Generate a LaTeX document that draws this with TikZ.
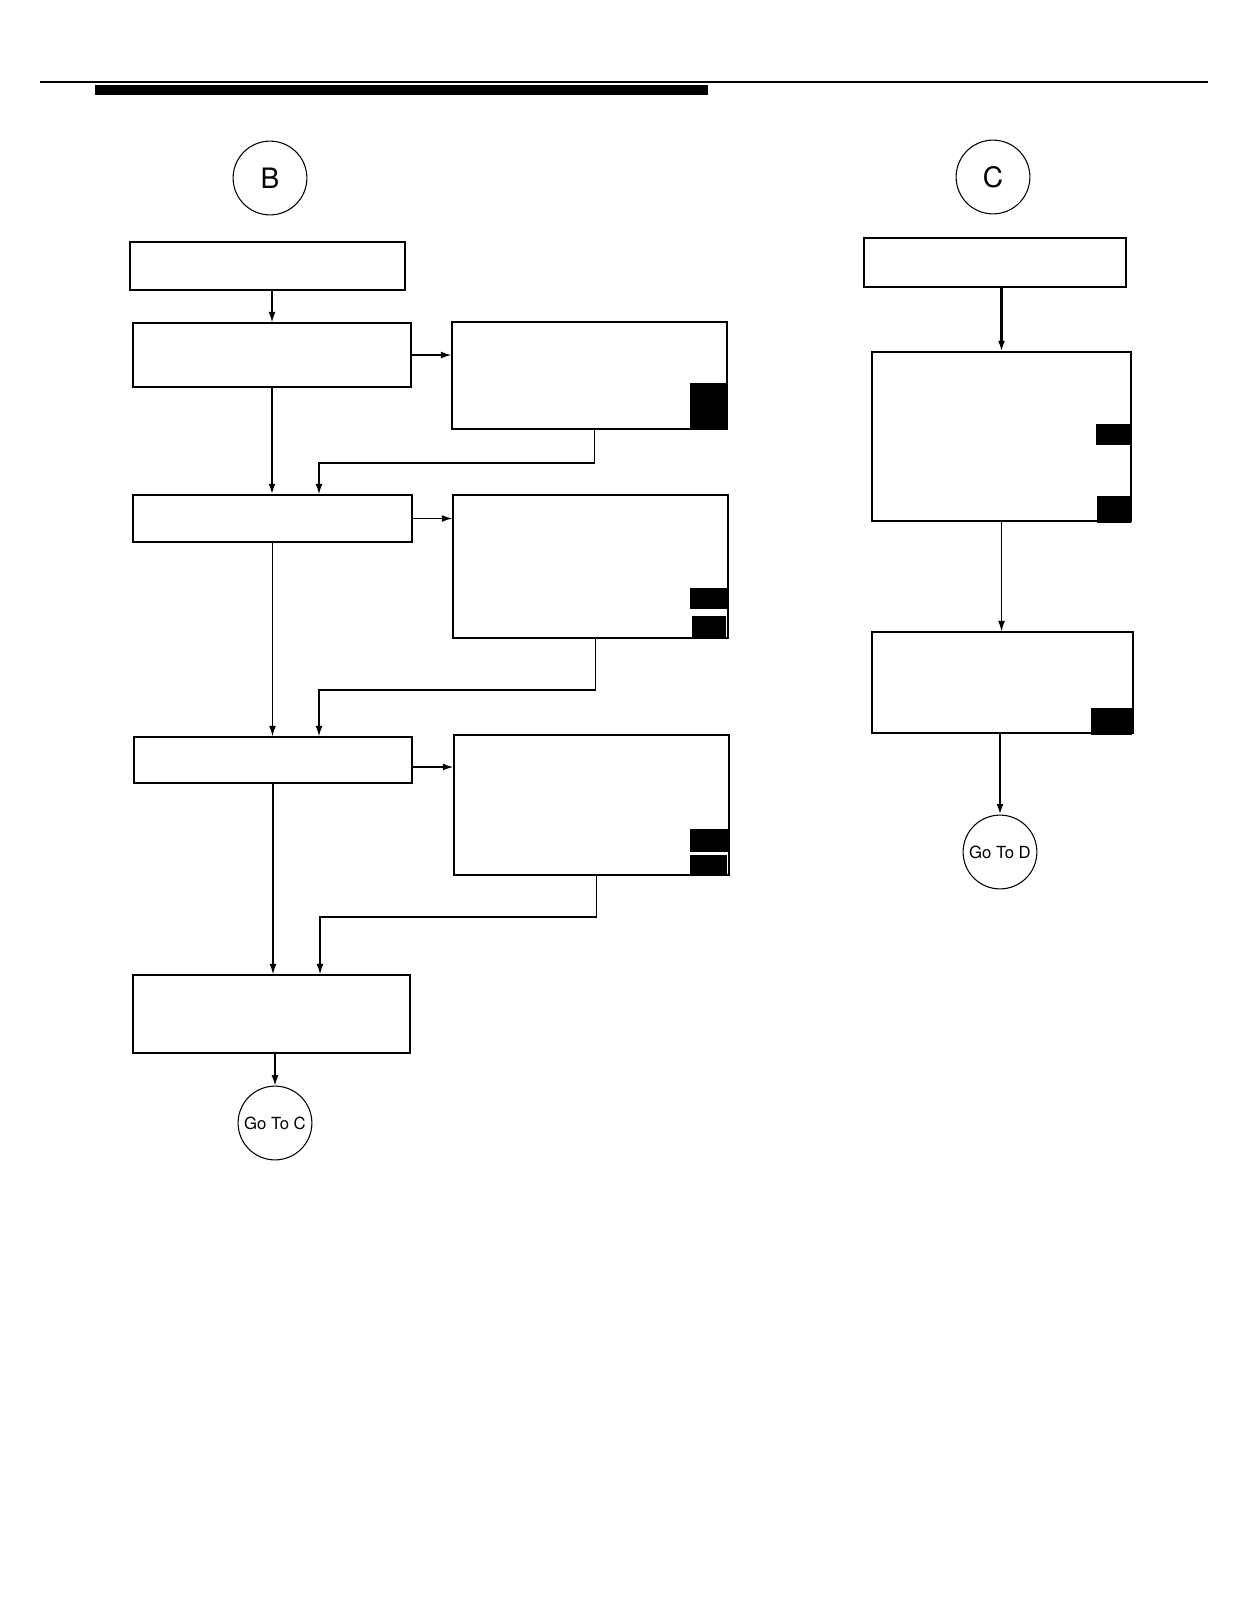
\documentclass[tikz,border=0pt]{standalone}
\usepackage{fontspec}
\setmainfont{TeX Gyre Heros}
\usetikzlibrary{arrows.meta,fit}
\begin{document}
\begin{tikzpicture}[x=0.02cm,y=-0.02cm,line width=0.8pt,
  box/.style={draw,rectangle,inner sep=0pt,fit={#1}},
  key/.style={fill=black,inner sep=0pt,fit={#1}},
  conn/.style={draw,circle,minimum size=42pt,inner sep=0pt,line width=0.6pt},
  arr/.style={-{Latex[length=6pt,width=4pt]}}
]
    \useasboundingbox (0,0) rectangle (1245,1597);
    % page header
    \draw[line width=0.6pt] (40,82) -- (1208,82);
    \fill (95,85) rectangle (708,95);
    % left flow
    \node[conn,font=\fontsize{16}{16}\selectfont] (B) at (270,178) {B};
    \node[box={(130,242) (405,290)}] (b1) {};
    \node[box={(133,323) (411,387)}] (b2) {};
    \node[box={(133,495) (412,542)}] (b3) {};
    \node[box={(134,737) (412,783)}] (b4) {};
    \node[box={(133,975) (410,1053)}] (b5) {};
    \node[conn,font=\fontsize{9.5}{10}\selectfont] (goC) at (275,1123) {Go To C};
    \node[box={(452,322) (727,429)}] (r1) {};
    \node[box={(453,495) (728,638)}] (r2) {};
    \node[box={(454,735) (729,875)}] (r3) {};
    \node[key={(690,383) (727,429)}] (k1) {};
    \node[key={(690,588) (727,609)}] (k2) {};
    \node[key={(692,616) (726,638)}] (k3) {};
    \node[key={(690,829) (729,852)}] (k4) {};
    \node[key={(690,855) (727,875)}] (k5) {};
    \coordinate (m1) at (319,463);
    \coordinate (m2) at (319,690);
    \coordinate (m3) at (320,917);
    \draw[arr] (b2.north |- b1.south) -- (b2.north);
    \draw[arr,line width=1.3pt] (b2.south) -- (b2.south |- b3.north);
    \draw[arr] (b3.south) -- (b3.south |- b4.north);
    \draw[arr] (b4.south) -- (b4.south |- b5.north);
    \draw[arr] (goC.north |- b5.south) -- (goC);
    \draw[arr] (b2.east) -- (b2.east -| r1.west);
    \draw[arr] (b3.east) -- (b3.east -| r2.west);
    \draw[arr] ([yshift=-4pt]b4.east) -- ([yshift=-4pt]b4.east -| r3.west);
    \draw[arr] ([xshift=3pt]r1.south) |- (m1) -- (m1 |- b3.north);
    \draw[arr] ([xshift=3pt]r2.south) |- (m2) -- (m2 |- b4.north);
    \draw[arr] ([xshift=3pt]r3.south) |- (m3) -- (m3 |- b5.north);
    % right flow
    \node[conn,font=\fontsize{16}{16}\selectfont] (C) at (993,177) {C};
    \node[box={(864,238) (1126,287)}] (c1) {};
    \node[box={(872,352) (1131,521)}] (c2) {};
    \node[box={(872,632) (1133,733)}] (c3) {};
    \node[conn,font=\fontsize{9.5}{10}\selectfont] (goD) at (1000,852) {Go To D};
    \node[key={(1096,424) (1131,445)}] (k6) {};
    \node[key={(1097,496) (1131,523)}] (k7) {};
    \node[key={(1091,708) (1132,735)}] (k8) {};
    \draw[arr,line width=1.3pt] (c2.north |- c1.south) -- (c2.north);
    \draw[arr] (c2.south) -- (c2.south |- c3.north);
    \draw[arr,line width=1.3pt] (goD.north |- c3.south) -- (goD);
\end{tikzpicture}
\end{document}
